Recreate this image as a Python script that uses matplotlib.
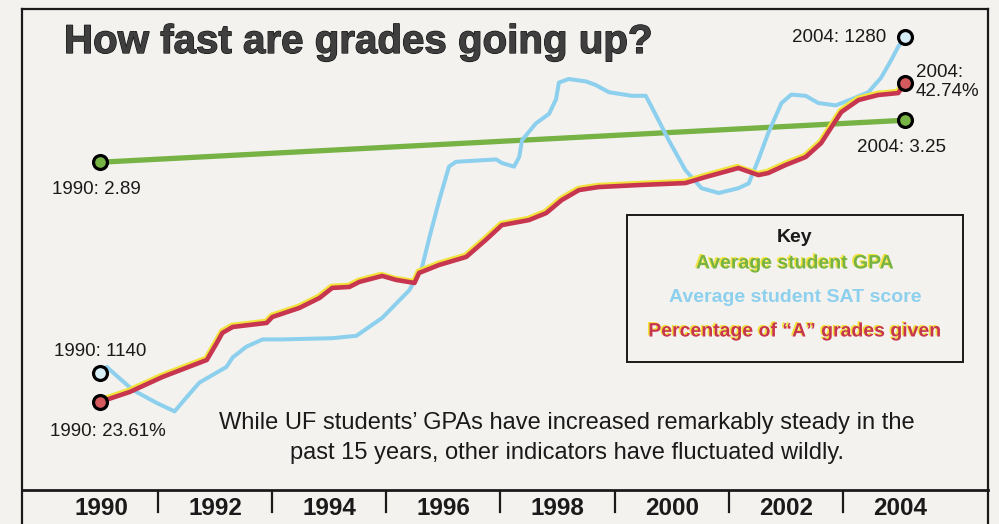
import matplotlib
matplotlib.use("Agg")
import matplotlib.pyplot as plt
import matplotlib.patheffects as pe
from matplotlib.patches import Rectangle
from matplotlib.lines import Line2D

# ---------------- data ----------------
gpa_years = [1990, 2004]
gpa_values = [2.89, 3.25]

sat_years = [1990.0, 1990.12, 1990.57, 1990.99, 1991.30, 1991.44, 1991.73, 1992.20,
             1992.31, 1992.55, 1992.83, 1993.17, 1994.04, 1994.46, 1994.91, 1995.38,
             1995.60, 1995.73, 1995.90, 1996.07, 1996.19, 1996.89, 1996.99, 1997.20,
             1997.29, 1997.34, 1997.58, 1997.81, 1997.93, 1997.98, 1998.15, 1998.45,
             1998.62, 1998.85, 1999.25, 1999.49, 1999.59, 1999.89, 2000.18, 2000.46,
             2000.76, 2001.10, 2001.28, 2001.45, 2001.62, 2001.85, 2002.02, 2002.27,
             2002.49, 2002.79, 2003.06, 2003.36, 2003.58, 2003.76, 2003.88, 2004.0]
sat_values = [1140, 1142.5, 1133, 1127.5, 1124, 1128, 1136, 1142.5,
              1146.5, 1151, 1154, 1154, 1154.5, 1155.5, 1163, 1174.5,
              1184, 1196.5, 1212, 1226, 1228, 1229, 1227.5, 1226,
              1230, 1237, 1244, 1248, 1254, 1261, 1262.5, 1261.5,
              1260, 1257, 1255.5, 1255.5, 1251, 1237, 1224.5, 1217,
              1215, 1217, 1219, 1229, 1240, 1252.5, 1256, 1255.5,
              1252.5, 1251.5, 1254, 1257, 1263, 1270.5, 1276, 1280]

a_years = [1990.0, 1990.52, 1991.09, 1991.86, 1992.03, 1992.13, 1992.31, 1992.90,
           1993.00, 1993.47, 1993.82, 1994.04, 1994.34, 1994.51, 1994.91, 1995.15,
           1995.47, 1995.55, 1995.90, 1996.37, 1996.71, 1996.99, 1997.46, 1997.76,
           1998.03, 1998.33, 1998.67, 1999.37, 2000.18, 2000.53, 2001.10, 2001.45,
           2001.62, 2001.92, 2002.27, 2002.54, 2002.72, 2002.89, 2003.19, 2003.53,
           2003.88, 2004.0]
a_values = [23.61, 24.21, 25.11, 26.13, 27.13, 27.75, 28.11, 28.35,
            28.71, 29.25, 29.85, 30.45, 30.51, 30.81, 31.17, 30.93,
            30.75, 31.35, 31.83, 32.31, 33.33, 34.22, 34.52, 34.94,
            35.72, 36.32, 36.50, 36.62, 36.74, 37.10, 37.64, 37.22,
            37.34, 37.82, 38.30, 39.14, 40.10, 41.00, 41.72, 42.02,
            42.14, 42.74]

tick_years = [1990, 1992, 1994, 1996, 1998, 2000, 2002, 2004]
sep_years = [1991, 1993, 1995, 1997, 1999, 2001, 2003]

title = "How fast are grades going up?"
caption = ("While UF students\u2019 GPAs have increased remarkably steady in the\n"
           "past 15 years, other indicators have fluctuated wildly.")
key_labels = ["Average student GPA", "Average student SAT score",
              "Percentage of \u201cA\u201d grades given"]

# ---------------- style ----------------
BG = "#f4f2ee"
GREEN = "#76b244"
BLUE = "#8dd0ee"
RED = "#c8354f"
YELLOW = "#f1e33c"
INK = "#1a1a1a"
FONT = ["Liberation Sans", "DejaVu Sans"]
NARROW = ["Liberation Sans Narrow", "Liberation Sans", "DejaVu Sans"]

W, H = 999, 524
fig = plt.figure(figsize=(W / 100, H / 100), dpi=100)
fig.patch.set_facecolor(BG)


def fx(px):
    return px / W


def fy(py):
    return 1 - py / H


rect = [fx(22), fy(490), fx(988) - fx(22), fy(9) - fy(490)]
ax_gpa = fig.add_axes(rect)
ax_sat = ax_gpa.twinx()
ax_a = ax_gpa.twinx()
for a in (ax_gpa, ax_sat, ax_a):
    a.set_xlim(1988.647, 2005.44)
    a.patch.set_visible(False)
    a.axis("off")
ax_gpa.set_ylim(0.0806, 4.2035)
ax_sat.set_ylim(1091.25, 1291.67)
ax_a.set_ylim(18.33, 47.18)

ghost = [pe.SimpleLineShadow(offset=(-0.8, 1.4), shadow_color=YELLOW, alpha=1, rho=1), pe.Normal()]

ax_gpa.plot(gpa_years, gpa_values, color=GREEN, lw=3.8, solid_capstyle="round")
ax_sat.plot(sat_years, sat_values, color=BLUE, lw=2.9, solid_joinstyle="round",
            solid_capstyle="round")
ax_a.plot(a_years, a_values, color=RED, lw=3.3, solid_joinstyle="round",
          solid_capstyle="round", path_effects=ghost)

mk = dict(marker="o", ms=10, mew=2.3, mec="black", ls="none")
ax_gpa.plot([gpa_years[0]], [gpa_values[0]], mfc=GREEN, **mk)
ax_gpa.plot([gpa_years[-1]], [gpa_values[-1]], mfc=GREEN, **mk)
ax_sat.plot([sat_years[0]], [sat_values[0]], mfc="#d8eef6", **mk)
ax_sat.plot([sat_years[-1]], [sat_values[-1]], mfc="#d8eef6", **mk)
ax_a.plot([a_years[0]], [a_values[0]], mfc="#d45a5e", **mk)
ax_a.plot([a_years[-1]], [a_values[-1]], mfc="#d45a5e", **mk)

# ---------------- frame ----------------
lk = dict(color=INK, lw=1.6, transform=fig.transFigure)
fig.add_artist(Line2D([fx(22), fx(988)], [fy(9), fy(9)], **lk))
fig.add_artist(Line2D([fx(22), fx(22)], [fy(9), 0], **lk))
fig.add_artist(Line2D([fx(988), fx(988)], [fy(9), 0], **lk))
fig.add_artist(Line2D([fx(22), fx(988)], [fy(490), fy(490)], color=INK, lw=2.0,
                      transform=fig.transFigure))

# bottom year strip
axb = fig.add_axes([fx(22), 0, fx(988) - fx(22), fy(490)])
axb.set_xlim(1988.616, 2005.542)
axb.set_ylim(0, 1)
axb.axis("off")
for y in tick_years:
    axb.text(y, 0.47, str(y), ha="center", va="center", fontsize=17.5,
             fontweight="bold", family=NARROW, color=INK)
for y in sep_years:
    axb.plot([y, y], [1, 0.35], color=INK, lw=1.6)

# ---------------- text ----------------
fig.text(fx(64), fy(42), title, ha="left", va="center", fontsize=29, fontweight="bold",
         family=NARROW, color="#3f3f3f",
         path_effects=[pe.withStroke(linewidth=0.9, foreground="#111111")])

lbl = dict(fontsize=13.5, family=FONT, color=INK)
fig.text(fx(52), fy(190), f"{gpa_years[0]}: {gpa_values[0]:.2f}", ha="left", va="center", **lbl)
fig.text(fx(857), fy(148), f"{gpa_years[-1]}: {gpa_values[-1]:.2f}", ha="left", va="center", **lbl)
fig.text(fx(54), fy(352), f"{sat_years[0]:.0f}: {sat_values[0]}", ha="left", va="center", **lbl)
fig.text(fx(886), fy(37), f"{sat_years[-1]:.0f}: {sat_values[-1]}", ha="right", va="center", **lbl)
fig.text(fx(50), fy(431), f"{a_years[0]:.0f}: {a_values[0]:.2f}%", ha="left", va="center", **lbl)
fig.text(fx(916), fy(82), f"{a_years[-1]:.0f}:\n{a_values[-1]:.2f}%", ha="left", va="center",
         linespacing=1.2, **lbl)

fig.text(fx(567), fy(438), caption, ha="center", va="center", fontsize=17,
         family=FONT, color=INK, linespacing=1.45)

# key box
fig.add_artist(Rectangle((fx(627), fy(362)), fx(963) - fx(627), fy(215) - fy(362),
                         fill=False, ec=INK, lw=1.4, transform=fig.transFigure))
fig.text(fx(795), fy(237), "Key", ha="center", va="center", fontsize=14,
         fontweight="bold", family=FONT, color=INK)
ygh = [pe.withSimplePatchShadow(offset=(-1.2, 0.8), shadow_rgbFace=YELLOW, alpha=1, rho=1)]
fig.text(fx(795), fy(264), key_labels[0], ha="center", va="center", fontsize=14,
         fontweight="bold", family=FONT, color=GREEN, path_effects=ygh)
fig.text(fx(795), fy(297), key_labels[1], ha="center", va="center", fontsize=14,
         fontweight="bold", family=FONT, color=BLUE)
fig.text(fx(795), fy(332), key_labels[2], ha="center", va="center", fontsize=14,
         fontweight="bold", family=FONT, color=RED, path_effects=ygh)

fig.savefig("out.png", dpi=100, facecolor=BG)
